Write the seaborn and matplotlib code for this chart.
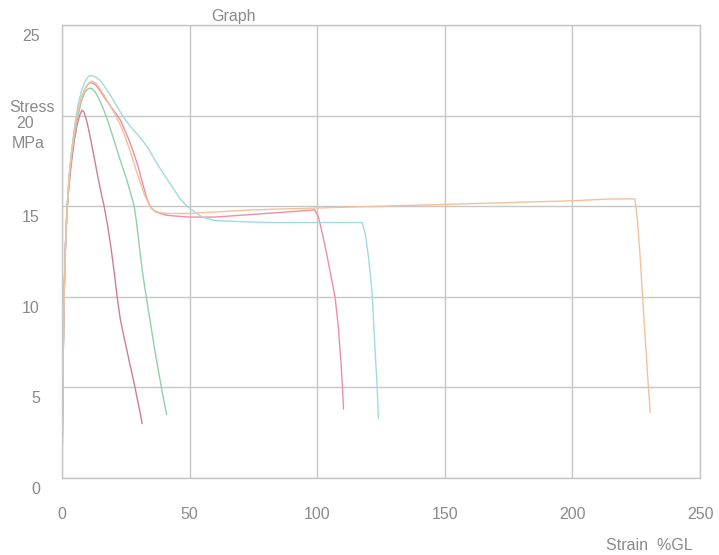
import pandas as pd
import seaborn as sns
import matplotlib.pyplot as plt
from matplotlib.transforms import ScaledTranslation

# Tensile test curves: strain (%GL) vs stress (MPa), one list pair per specimen
strain_1 = [0, 0.2, 0.5, 0.9, 1.4, 2.0, 2.8, 3.7, 4.7, 5.8, 6.9, 7.8, 8.6, 9.5, 10.5, 11.5, 12.6, 13.8, 15.1,
            16.5, 17.9, 19.3, 20.6, 21.6, 22.8, 24.1, 25.5, 26.9, 28.0, 28.6, 29.6, 30.6, 31.4]
stress_1 = [0, 3.0, 7.0, 10.5, 13.0, 14.8, 16.2, 17.4, 18.5, 19.4, 20.0, 20.3, 20.2, 19.8, 19.2, 18.5, 17.7,
            16.8, 15.9, 15.0, 13.9, 12.6, 11.2, 10.0, 8.8, 7.9, 7.0, 6.1, 5.4, 5.0, 4.3, 3.6, 3.0]

strain_2 = [0, 0.2, 0.5, 0.9, 1.4, 2.0, 2.8, 3.8, 5.0, 6.3, 7.6, 9.0, 10.4, 11.6, 13.0, 14.6, 16.4, 18.2,
            20.0, 21.8, 23.6, 25.3, 26.9, 28.3, 29.3, 30.3, 31.5, 33.0, 34.6, 36.2, 37.8, 39.2, 40.3, 41.0]
stress_2 = [0, 3.0, 7.0, 10.5, 13.0, 14.9, 16.5, 17.8, 19.0, 20.0, 20.8, 21.3, 21.5, 21.5, 21.3, 20.9, 20.3,
            19.6, 18.8, 18.0, 17.2, 16.5, 15.7, 15.0, 14.0, 12.8, 11.4, 10.0, 8.6, 7.2, 5.9, 4.8, 4.0, 3.5]

strain_3 = [0, 0.2, 0.5, 0.9, 1.4, 2.0, 2.8, 3.8, 5.0, 6.3, 7.7, 9.1, 10.5, 11.8, 13.2, 14.8, 16.6, 18.6,
            20.7, 22.7, 24.6, 26.4, 28.2, 30.0, 31.7, 33.1, 34.2, 35.3, 36.6, 38.5, 41.0, 45.0, 50.0, 60.0,
            70.0, 80.0, 90.0, 99.0, 100.5, 102.0, 103.8, 105.6, 107.0, 108.3, 109.3, 110.0, 110.3]
stress_3 = [0, 3.0, 7.0, 10.5, 13.0, 14.9, 16.6, 18.0, 19.3, 20.3, 21.0, 21.5, 21.8, 21.8, 21.7, 21.4, 21.0,
            20.6, 20.2, 19.8, 19.2, 18.6, 17.9, 17.1, 16.2, 15.5, 15.1, 14.85, 14.7, 14.6, 14.5, 14.45, 14.4,
            14.4, 14.5, 14.6, 14.7, 14.8, 14.4, 13.5, 12.3, 11.0, 10.0, 8.3, 6.4, 4.8, 3.8]

strain_4 = [0, 0.2, 0.5, 0.9, 1.4, 2.0, 2.8, 3.8, 5.0, 6.3, 7.7, 9.1, 10.6, 12.0, 13.5, 15.2, 17.2, 19.5,
            22.0, 24.6, 27.4, 30.6, 33.8, 37.0, 40.2, 43.5, 46.3, 49.0, 51.8, 55.0, 60.0, 80.0, 100.0,
            117.6, 118.8, 120.0, 121.0, 121.6, 122.5, 123.5, 124.0]
stress_4 = [0, 3.0, 7.0, 10.5, 13.0, 15.0, 16.7, 18.1, 19.5, 20.6, 21.4, 21.9, 22.2, 22.2, 22.1, 21.9, 21.5,
            21.0, 20.4, 19.8, 19.3, 18.8, 18.2, 17.4, 16.7, 16.0, 15.4, 15.0, 14.7, 14.4, 14.2, 14.1, 14.1,
            14.1, 13.5, 12.3, 11.0, 10.0, 7.5, 5.0, 3.3]

strain_5 = [0, 0.2, 0.5, 0.9, 1.4, 2.0, 2.8, 3.8, 5.0, 6.3, 7.7, 9.1, 10.5, 11.8, 13.2, 14.8, 16.6, 18.6,
            20.7, 22.8, 24.8, 26.8, 28.8, 30.7, 32.4, 33.8, 35.0, 36.4, 38.2, 41.0, 45.0, 50.0, 75.0, 100.0,
            125.0, 150.0, 175.0, 200.0, 215.0, 224.5, 225.5, 226.5, 227.5, 228.5, 229.5, 230.5]
stress_5 = [0, 3.0, 7.0, 10.5, 13.0, 14.9, 16.6, 18.0, 19.3, 20.3, 21.0, 21.5, 21.8, 21.9, 21.8, 21.5, 21.1,
            20.6, 20.1, 19.5, 18.8, 18.0, 17.1, 16.3, 15.6, 15.2, 14.9, 14.75, 14.65, 14.6, 14.6, 14.6, 14.8,
            14.9, 15.0, 15.1, 15.2, 15.3, 15.4, 15.4, 14.2, 12.3, 10.0, 7.8, 5.6, 3.6]

specimens = ["1", "2", "3", "4", "5"]
colors = ["#cf7e93", "#92d0aa", "#ee8ea6", "#a0dcdc", "#f4c19c"]

x_ticks = [0, 50, 100, 150, 200, 250]
y_ticks = [0, 5, 10, 15, 20, 25]
y_tick_labels = ["0", "5", "10", "15", "", "25"]

frames = []
for name, sx, sy in zip(specimens,
                        [strain_1, strain_2, strain_3, strain_4, strain_5],
                        [stress_1, stress_2, stress_3, stress_4, stress_5]):
    frames.append(pd.DataFrame({"strain": sx, "stress": sy, "specimen": name}))
df = pd.concat(frames, ignore_index=True)

sns.set_theme(style="white")
plt.rcParams["font.family"] = ["Liberation Sans", "DejaVu Sans"]

fig = plt.figure(figsize=(7.19, 5.55), dpi=100)
ax = fig.add_axes([62 / 719, 1 - 478 / 555, (700 - 62) / 719, (478 - 25) / 555])

sns.lineplot(data=df, x="strain", y="stress", hue="specimen", palette=colors,
             sort=False, estimator=None, legend=False, linewidth=1.0, ax=ax)

ax.set_xlim(0, 250)
ax.set_ylim(0, 25)
ax.set_xticks(x_ticks)
ax.set_yticks(y_ticks)
ax.set_yticklabels(y_tick_labels)
ax.set_xlabel("")
ax.set_ylabel("")

grid_color = "#c6c6c6"
ax.grid(True, color=grid_color, linewidth=1.0)
ax.set_axisbelow(True)
for side in ax.spines.values():
    side.set_visible(True)
    side.set_color(grid_color)
    side.set_linewidth(1.0)

text_color = "#8a8a8a"
fs = 11.5
ax.tick_params(axis="both", length=0, labelsize=fs, labelcolor=text_color)
ax.tick_params(axis="y", pad=16)
ax.tick_params(axis="x", pad=21)
shift = ScaledTranslation(0, -7 / 72, fig.dpi_scale_trans)
for lab in ax.get_yticklabels():
    lab.set_transform(lab.get_transform() + shift)

# y-axis caption wrapped around the 20 MPa tick
for txt, px, py in [("Stress", 32, 108), ("20", 25, 124), ("MPa", 28, 143)]:
    fig.text(px / 719, 1 - py / 555, txt, ha="center", va="center",
             fontsize=fs, color=text_color)
fig.text(233 / 719, 1 - 16 / 555, "Graph", ha="center", va="center",
         fontsize=fs, color=text_color)
fig.text(693 / 719, 1 - 545 / 555, "Strain  %GL", ha="right", va="center",
         fontsize=fs, color=text_color)

fig.savefig("out.png", dpi=100, facecolor="white")
